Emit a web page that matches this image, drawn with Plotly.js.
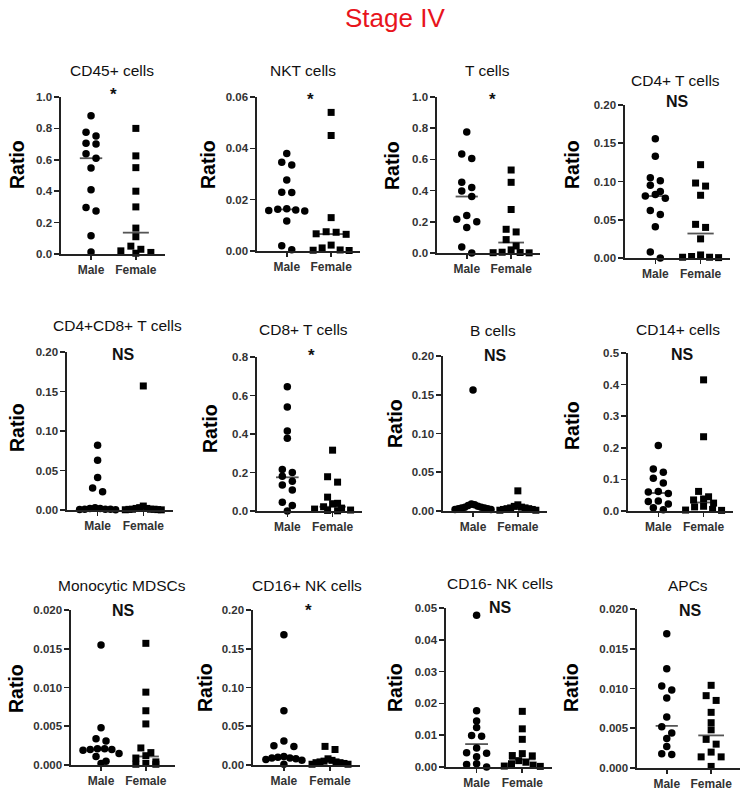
<!DOCTYPE html>
<html><head><meta charset="utf-8">
<script src="https://cdn.plot.ly/plotly-3.0.1.min.js"></script>
<style>body{margin:0;background:#fff}#chart{width:749px;height:796px}</style>
</head><body><div id="chart"></div>
<script>
// ---------- DATA ----------
const groups = ['Male', 'Female'];
const mainTitle = 'Stage IV';
const titles = ['CD45+ cells','NKT cells','T cells','CD4+ T cells',
  'CD4+CD8+ T cells','CD8+ T cells','B cells','CD14+ cells',
  'Monocytic MDSCs','CD16+ NK cells','CD16- NK cells','APCs'];
const signif = ['*','*','*','NS','NS','*','NS','NS','NS','*','NS','NS'];
const yMax  = [1.0,0.06,1.0,0.20,0.20,0.8,0.20,0.5,0.020,0.20,0.05,0.020];
const yStep = [0.2,0.02,0.2,0.05,0.05,0.2,0.05,0.1,0.005,0.05,0.01,0.005];
const yLabel = 'Ratio';

const maleCD45   = [0.88,0.775,0.752,0.706,0.70,0.638,0.61,0.547,0.409,0.296,0.274,0.117,0.012];
const femaleCD45 = [0.80,0.625,0.55,0.40,0.30,0.165,0.11,0.05,0.03,0.02,0.01,0.005];
const maleNKT   = [0.038,0.0346,0.0335,0.0277,0.0229,0.0228,0.0165,0.0163,0.016,0.0158,0.0156,0.0117,0.002,0.0005];
const femaleNKT = [0.054,0.045,0.013,0.0075,0.0073,0.0067,0.0065,0.0023,0.0012,0.0004,0.0003,0.0002];
const maleT   = [0.775,0.635,0.605,0.453,0.42,0.397,0.362,0.24,0.217,0.2,0.163,0.039,0.0];
const femaleT = [0.532,0.453,0.279,0.152,0.135,0.086,0.045,0.02,0.005,0.003,0.002,0.001];
const maleCD4   = [0.156,0.133,0.105,0.101,0.095,0.087,0.083,0.081,0.078,0.062,0.057,0.041,0.008,0.0];
const femaleCD4 = [0.122,0.098,0.094,0.082,0.044,0.040,0.025,0.004,0.002,0.001,0.001,0.0005];
const maleDP   = [0.082,0.063,0.041,0.028,0.023,0.003,0.002,0.002,0.001,0.001,0.0008,0.0005,0.0003];
const femaleDP = [0.157,0.005,0.003,0.002,0.002,0.001,0.001,0.001,0.0008,0.0005,0.0003,0.0002];
const maleCD8   = [0.645,0.54,0.415,0.378,0.215,0.2,0.18,0.155,0.135,0.109,0.045,0.028,0.0];
const femaleCD8 = [0.316,0.178,0.15,0.072,0.04,0.038,0.022,0.015,0.01,0.005,0.003,0.001];
const maleB   = [0.156,0.009,0.008,0.007,0.006,0.005,0.005,0.004,0.004,0.003,0.003,0.002,0.002];
const femaleB = [0.026,0.008,0.006,0.005,0.004,0.004,0.003,0.003,0.002,0.002,0.001,0.001];
const maleCD14   = [0.207,0.133,0.123,0.104,0.089,0.062,0.06,0.055,0.032,0.03,0.022,0.01,0.004];
const femaleCD14 = [0.415,0.235,0.062,0.045,0.038,0.035,0.025,0.015,0.013,0.005,0.003,0.002];
const maleMDSC   = [0.0155,0.0048,0.0034,0.0031,0.0021,0.0021,0.002,0.002,0.0019,0.0015,0.0011,0.0005,0.0002];
const femaleMDSC = [0.0157,0.0094,0.007,0.0053,0.0022,0.0016,0.0012,0.0009,0.0004,0.0002,0.0001,0.0001];
const maleNK16p   = [0.168,0.07,0.031,0.025,0.024,0.011,0.01,0.009,0.009,0.008,0.007,0.006,0.001];
const femaleNK16p = [0.024,0.02,0.008,0.006,0.005,0.004,0.004,0.003,0.003,0.002,0.001,0.001];
const maleNK16n   = [0.0477,0.0177,0.0145,0.0124,0.0099,0.0097,0.006,0.0045,0.0043,0.0032,0.001,0.0008,0.0];
const femaleNK16n = [0.0175,0.012,0.0087,0.0042,0.0036,0.0035,0.002,0.0015,0.001,0.0006,0.0003,0.0002];
const maleAPC   = [0.0169,0.0125,0.0103,0.0098,0.0088,0.0064,0.0052,0.0044,0.0037,0.0027,0.0018,0.0017];
const femaleAPC = [0.0104,0.0091,0.0085,0.007,0.0057,0.0048,0.0036,0.003,0.002,0.0014,0.0014,0.0002];

const maleMedian   = [0.61,0.0162,0.362,0.081,0.002,0.175,0.005,0.057,0.002,0.009,0.0072,0.0053];
const femaleMedian = [0.136,0.0066,0.067,0.032,0.001,0.022,0.003,0.027,0.0011,0.004,0.0024,0.0041];

const maleData   = [maleCD45,maleNKT,maleT,maleCD4,maleDP,maleCD8,maleB,maleCD14,maleMDSC,maleNK16p,maleNK16n,maleAPC];
const femaleData = [femaleCD45,femaleNKT,femaleT,femaleCD4,femaleDP,femaleCD8,femaleB,femaleCD14,femaleMDSC,femaleNK16p,femaleNK16n,femaleAPC];

// ---------- LAYOUT (pixel geometry) ----------
const W = 749, H = 796;
// [axis left, axis right, top (yMax), bottom (0)]
const box = [[61,165,97,254],[257,360,97,251],[437,540,97,253],[625,730,105,258],
             [67,173,352,510],[257,362,357,511],[443,547,356,511],[628,733,353,511],
             [71,175,610,765],[253,360,610,765],[446,552,608,767],[637,740,609,768]];
const titlePos = [[112,71],[303,71],[487,71],[675,80],[117,325],[303,330],[493,331],[678,329],
                  [122,585],[307,585],[500,583],[688,585]];
const sigPos = [[113,94],[310,99],[492,99],[677,102],[123,354],[311,355],[495,355],[682,354],
                [123,610],[308,610],[500,607],[690,610]];
const ratioPos = [[17,165],[208,165],[392,165],[572,165],[17,428],[210,428],[395,424],[572,426],
                  [16,689],[205,688],[395,688],[571,688]];
const XR = [-0.67, 1.65];
const FONT = 'Liberation Sans, Arial, sans-serif';

function decimals(step){ return Math.max(0, -Math.floor(Math.log10(step) + 1e-9)); }

// simple row-based beeswarm (layout only)
function swarm(vals, center, pyPerUnit, pxPerUnit){
  const DIA = 6.5, SP = 10, MAXW = 36;
  const idx = vals.map((v,i)=>i).sort((a,b)=>vals[b]-vals[a]);
  const rows = []; let cur = null;
  for (const i of idx){
    const py = vals[i]*pyPerUnit;
    if (cur && cur.top - py < DIA) cur.items.push(i);
    else { cur = {top: py, items: [i]}; rows.push(cur); }
  }
  const xs = new Array(vals.length);
  rows.forEach(r=>{
    const n = r.items.length;
    const sp = n > 1 ? Math.min(SP, MAXW/(n-1)) : 0;
    // interleave: highest values toward the centre, alternating sides
    const slots = r.items.map((_,j)=>j-(n-1)/2).sort((a,b)=>Math.abs(a)-Math.abs(b) || a-b);
    r.items.forEach((i,j)=>{ xs[i] = center + slots[j]*sp/pxPerUnit; });
  });
  return xs;
}

const traces = [], annotations = [];
const layout = {
  width: W, height: H, margin:{l:0,r:0,t:0,b:0},
  paper_bgcolor:'#fff', plot_bgcolor:'rgba(0,0,0,0)', showlegend:false,
  font:{family:FONT, color:'#222'}
};

titles.forEach((t,k)=>{
  const n = k+1, xs = n===1?'x':'x'+n, ys = n===1?'y':'y'+n;
  const [x0,x1,yt,yb] = box[k];
  const pxPerUnit = (x1-x0)/(XR[1]-XR[0]);
  const pyPerUnit = (yb-yt)/yMax[k];
  const axX = {
    domain:[x0/W, x1/W], range:XR, anchor:ys,
    showline:true, linecolor:'#222', linewidth:1.6, mirror:false,
    tickmode:'array', tickvals:[0,1], ticktext:groups,
    ticks:'outside', ticklen:4, tickwidth:1.6, tickcolor:'#222',
    tickfont:{family:FONT, size:12, weight:'bold', color:'#333'},
    showgrid:false, zeroline:false, fixedrange:true
  };
  const axY = {
    domain:[1-yb/H, 1-yt/H], range:[0,yMax[k]], anchor:xs,
    showline:true, linecolor:'#222', linewidth:1.6,
    tick0:0, dtick:yStep[k], tickformat:'.'+decimals(yStep[k])+'f',
    ticks:'outside', ticklen:5, tickwidth:1.6, tickcolor:'#222',
    tickfont:{family:FONT, size:11.5, weight:'bold', color:'#333'},
    showgrid:false, zeroline:false, fixedrange:true
  };
  layout[n===1?'xaxis':'xaxis'+n] = axX;
  layout[n===1?'yaxis':'yaxis'+n] = axY;

  traces.push({type:'scatter', mode:'lines', xaxis:xs, yaxis:ys, cliponaxis:false,
    x:[-0.25,0.25], y:[maleMedian[k],maleMedian[k]], line:{color:'#555', width:1.8}});
  traces.push({type:'scatter', mode:'lines', xaxis:xs, yaxis:ys, cliponaxis:false,
    x:[0.71,1.29], y:[femaleMedian[k],femaleMedian[k]], line:{color:'#555', width:1.8}});
  traces.push({type:'scatter', mode:'markers', xaxis:xs, yaxis:ys, cliponaxis:false,
    x: swarm(maleData[k], 0, pyPerUnit, pxPerUnit), y: maleData[k],
    marker:{symbol:'circle', size:7.5, color:'#000'}});
  traces.push({type:'scatter', mode:'markers', xaxis:xs, yaxis:ys, cliponaxis:false,
    x: swarm(femaleData[k], 1, pyPerUnit, pxPerUnit), y: femaleData[k],
    marker:{symbol:'square', size:7, color:'#000'}});

  annotations.push({xref:'paper', yref:'paper', x:titlePos[k][0]/W, y:1-titlePos[k][1]/H,
    xanchor:'center', yanchor:'middle', showarrow:false, text:t,
    font:{family:FONT, size:15.5, color:'#111'}});
  const isStar = signif[k]==='*';
  annotations.push({xref:'paper', yref:'paper', x:sigPos[k][0]/W, y:1-sigPos[k][1]/H,
    xanchor:'center', yanchor:'middle', showarrow:false, text:signif[k],
    font:{family:FONT, size:isStar?17:16, weight:'bold', color:'#111'}});
  annotations.push({xref:'paper', yref:'paper', x:ratioPos[k][0]/W, y:1-ratioPos[k][1]/H,
    xanchor:'center', yanchor:'middle', showarrow:false, text:yLabel, textangle:-90,
    font:{family:FONT, size:19.5, weight:'bold', color:'#000'}});
});

annotations.push({xref:'paper', yref:'paper', x:395/W, y:1-18/H, xanchor:'center', yanchor:'middle',
  showarrow:false, text:mainTitle, font:{family:FONT, size:26, color:'#e8141c'}});
layout.annotations = annotations;

Plotly.newPlot('chart', traces, layout, {staticPlot:true, displayModeBar:false});
</script>
</body></html>
